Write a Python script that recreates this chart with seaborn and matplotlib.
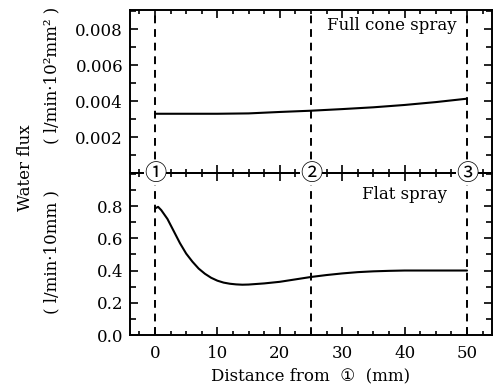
import matplotlib
matplotlib.use("Agg")
import matplotlib.pyplot as plt
from matplotlib.ticker import MultipleLocator, FixedLocator
import seaborn as sns
import pandas as pd

# ---- data ----
top_x = [0, 5, 10, 15, 20, 25, 30, 35, 40, 45, 50]
top_y = [0.0033, 0.0033, 0.0033, 0.00332, 0.0034, 0.00347, 0.00356, 0.00366, 0.00379, 0.00395, 0.00414]

bot_x = [0, 0.5, 1, 2, 3, 4, 5, 6, 7, 8, 9, 10, 11, 12, 13, 14, 15, 17.5, 20,
         22.5, 25, 27.5, 30, 32.5, 35, 37.5, 40, 45, 50]
bot_y = [0.785, 0.795, 0.775, 0.72, 0.645, 0.57, 0.505, 0.455, 0.412, 0.38, 0.355,
         0.337, 0.325, 0.318, 0.314, 0.312, 0.313, 0.32, 0.33, 0.345, 0.36, 0.372,
         0.382, 0.39, 0.395, 0.398, 0.40, 0.40, 0.40]

markers_x = [0, 25, 50]
markers_txt = ["①", "②", "③"]
top_yticks = [0.002, 0.004, 0.006, 0.008]
bot_yticks = [0.0, 0.2, 0.4, 0.6, 0.8]
xticks = [0, 10, 20, 30, 40, 50]

sns.set_style("ticks")
plt.rcParams['font.family'] = ['DejaVu Serif', 'DejaVu Sans', 'Noto Sans CJK JP']
plt.rcParams['font.size'] = 12
for k in ['text.color', 'axes.labelcolor', 'xtick.color', 'ytick.color', 'axes.edgecolor']:
    plt.rcParams[k] = 'black'

W, H = 501, 392
fig = plt.figure(figsize=(W / 100, H / 100), dpi=100)
L, R, B, T, M = 130, 492, 335, 10, 173
ax1 = fig.add_axes([L / W, (H - M) / H, (R - L) / W, (M - T) / H])
ax2 = fig.add_axes([L / W, (H - B) / H, (R - L) / W, (B - M) / H], sharex=ax1)
ax1.set_zorder(3)
ax1.patch.set_alpha(0)

df_top = pd.DataFrame({"x": top_x, "y": top_y})
df_bot = pd.DataFrame({"x": bot_x, "y": bot_y})
sns.lineplot(data=df_top, x="x", y="y", ax=ax1, color="black", lw=1.5)
sns.lineplot(data=df_bot, x="x", y="y", ax=ax2, color="black", lw=1.5)

for ax in (ax1, ax2):
    for xv in markers_x:
        ax.axvline(xv, color="black", lw=1.4, ls=(0, (4, 3)), zorder=1)
    for s in ax.spines.values():
        s.set_linewidth(1.4)
        s.set_color("black")
    ax.set_xlim(-4, 54)
    ax.xaxis.set_major_locator(FixedLocator(xticks))
    ax.xaxis.set_minor_locator(MultipleLocator(2.5))
    ax.tick_params(axis="x", which="both", direction="in", top=True, bottom=True,
                   width=1.2, color="black", labelsize=12, pad=7)
    ax.tick_params(axis="x", which="major", length=5.5)
    ax.tick_params(axis="x", which="minor", length=3)
    ax.tick_params(axis="y", which="both", direction="in", left=True, right=True,
                   width=1.2, color="black", labelsize=12, pad=5)
    ax.tick_params(axis="y", which="major", length=6)
    ax.tick_params(axis="y", which="minor", length=4)
    ax.set_xlabel("")
    ax.set_ylabel("")

ax1.set_ylim(0, 0.00908)
ax1.yaxis.set_major_locator(FixedLocator(top_yticks))
ax1.yaxis.set_minor_locator(MultipleLocator(0.001))
ax1.set_yticklabels([f"{v:.3f}" for v in top_yticks])
ax1.tick_params(axis="x", labelbottom=False)

ax2.set_ylim(0, 1.005)
ax2.yaxis.set_major_locator(FixedLocator(bot_yticks))
ax2.yaxis.set_minor_locator(MultipleLocator(0.1))
ax2.set_yticklabels([f"{v:.1f}" for v in bot_yticks])
ax2.set_xticklabels([str(v) for v in xticks])

for xv, t in zip(markers_x, markers_txt):
    ax1.text(xv, 0, t, ha="center", va="center", fontsize=16, zorder=10,
             clip_on=False, family=['Noto Sans CJK JP', 'DejaVu Sans'],
             bbox=dict(boxstyle="square,pad=0.0", fc="white", ec="none"))

ax1.text(48.4, 0.0082, "Full cone spray", ha="right", va="center", fontsize=12)
ax2.text(46.8, 0.87, "Flat spray", ha="right", va="center", fontsize=12)

ax2.set_xlabel("Distance from  ①  (mm)", fontsize=12, labelpad=4)

fig.text(25 / W, 1 - 168 / H, "Water flux", rotation=90, ha="center", va="center", fontsize=12)
fig.text(52 / W, 1 - 75 / H, "( l/min·10²mm² )", rotation=90, ha="center", va="center", fontsize=12)
fig.text(52 / W, 1 - 252 / H, "( l/min·10mm )", rotation=90, ha="center", va="center", fontsize=12)

fig.savefig("out.png", dpi=100)
